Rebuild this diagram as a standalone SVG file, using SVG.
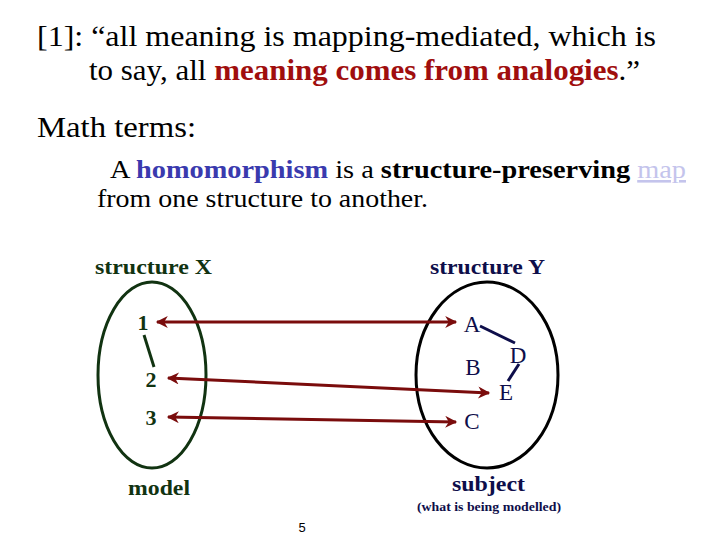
<svg xmlns="http://www.w3.org/2000/svg" width="720" height="540" viewBox="0 0 720 540">
<defs>
<style>
text{font-family:"Liberation Serif","Times New Roman",serif}
.t{font-size:30px;fill:#000}
.red{fill:#A00E0E;font-weight:bold}
.sm{font-size:26px}
.g{fill:#113311}
.n{fill:#0E0E4A}
.b{font-weight:bold}
.lbl{font-size:21px}
.arr{stroke:#7A0C0C;stroke-width:3;fill:none;marker-start:url(#ah);marker-end:url(#ah)}
</style>
<marker id="ah" viewBox="0 0 10 10" refX="9" refY="5" markerWidth="4.5" markerHeight="4" orient="auto-start-reverse" markerUnits="strokeWidth">
<path d="M0,0 L10,5 L0,10 L3,5 Z" fill="#7A0C0C"/>
</marker>
</defs>
<rect width="720" height="540" fill="#fff"/>
<g id="title">
<text class="t" x="37" y="46" textLength="619" lengthAdjust="spacingAndGlyphs">[1]: “all meaning is mapping-mediated, which is</text>
<text class="t" x="89" y="80" textLength="551" lengthAdjust="spacingAndGlyphs">to say, all <tspan class="red">meaning comes from analogies</tspan>.”</text>
</g>
<g id="math">
<text class="t" x="37" y="137" textLength="159" lengthAdjust="spacingAndGlyphs">Math terms:</text>
<text class="sm" x="110" y="178" textLength="576" lengthAdjust="spacingAndGlyphs">A <tspan fill="#3A3AAE" font-weight="bold">homomorphism</tspan> is a <tspan font-weight="bold">structure-preserving</tspan> <tspan fill="#C4C4EC" text-decoration="underline">map</tspan></text>
<text class="sm" x="97" y="207" textLength="331" lengthAdjust="spacingAndGlyphs">from one structure to another.</text>
</g>
<g id="structureX">
<text class="lbl b g" x="95" y="274" textLength="117" lengthAdjust="spacingAndGlyphs">structure X</text>
<ellipse cx="152" cy="375" rx="54" ry="93" fill="none" stroke="#113311" stroke-width="3"/>
<text class="b g" font-size="22" x="143" y="330" text-anchor="middle">1</text>
<text class="b g" font-size="22" x="151" y="387" text-anchor="middle">2</text>
<text class="b g" font-size="22" x="151" y="425" text-anchor="middle">3</text>
<line x1="144" y1="335" x2="154" y2="367" stroke="#113311" stroke-width="3"/>
<text class="lbl b g" x="128" y="495" textLength="62" lengthAdjust="spacingAndGlyphs">model</text>
</g>
<g id="structureY">
<text class="lbl b n" x="430" y="274" textLength="115" lengthAdjust="spacingAndGlyphs">structure Y</text>
<ellipse cx="487" cy="375" rx="71" ry="93" fill="none" stroke="#000" stroke-width="3"/>
<g class="n" font-size="23">
<text x="472" y="332" text-anchor="middle">A</text>
<text x="473" y="375" text-anchor="middle">B</text>
<text x="472" y="429" text-anchor="middle">C</text>
<text x="518" y="363" text-anchor="middle">D</text>
<text x="506" y="400" text-anchor="middle">E</text>
</g>
<line x1="480" y1="326" x2="515" y2="343" stroke="#0E0E4A" stroke-width="3"/>
<line x1="519" y1="364" x2="508" y2="381" stroke="#0E0E4A" stroke-width="3"/>
<text class="lbl b n" x="452" y="491" textLength="73" lengthAdjust="spacingAndGlyphs">subject</text>
<text class="b n" x="417" y="511" font-size="12.5" textLength="144" lengthAdjust="spacingAndGlyphs">(what is being modelled)</text>
</g>
<g id="connectors">
<line class="arr" x1="157" y1="322" x2="456" y2="322"/>
<line class="arr" x1="168" y1="378" x2="489" y2="393"/>
<line class="arr" x1="168" y1="417" x2="456" y2="422"/>
</g>
<text x="302" y="532" font-size="13" text-anchor="middle" style="font-family:'Liberation Sans',Arial,sans-serif">5</text>
</svg>
